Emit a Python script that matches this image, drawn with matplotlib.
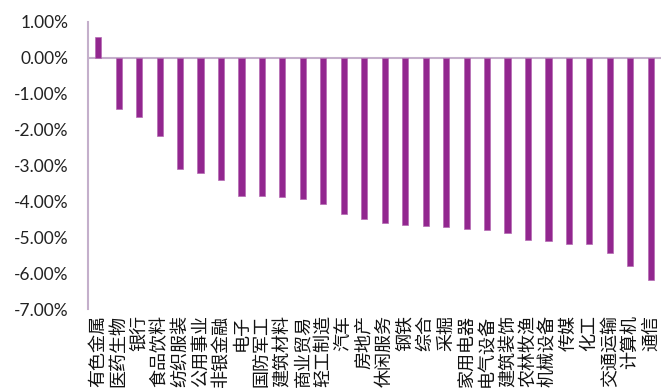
import numpy as np
import matplotlib.pyplot as plt
from matplotlib.ticker import FuncFormatter

# industry returns (%)
industries = ['有色金属', '医药生物', '银行', '食品饮料', '纺织服装', '公用事业', '非银金融',
              '电子', '国防军工', '建筑材料', '商业贸易', '轻工制造', '汽车', '房地产',
              '休闲服务', '钢铁', '综合', '采掘', '家用电器', '电气设备', '建筑装饰',
              '农林牧渔', '机械设备', '传媒', '化工', '交通运输', '计算机', '通信']
returns = [0.57, -1.43, -1.65, -2.18, -3.09, -3.20, -3.40,
           -3.84, -3.85, -3.89, -3.94, -4.08, -4.35, -4.48,
           -4.61, -4.67, -4.70, -4.71, -4.77, -4.80, -4.88,
           -5.08, -5.10, -5.18, -5.18, -5.45, -5.79, -6.18]
yticks = [1, 0, -1, -2, -3, -4, -5, -6, -7]

bar_color = '#92278F'
axis_color = '#C4AFCB'

fig = plt.figure(figsize=(6.61, 3.92), dpi=100)
ax = fig.add_axes([88 / 661, 1 - 309 / 392, 573 / 661, 287 / 392])

x = np.arange(len(industries))
ax.bar(x, returns, width=0.3, color=bar_color, edgecolor='#B46AB2', linewidth=0.5, zorder=2)

ax.set_xlim(-0.5, len(industries) - 0.5)
ax.set_ylim(-7, 1)
ax.set_yticks(yticks)
ax.yaxis.set_major_formatter(FuncFormatter(lambda v, p: f'{v:.2f}%'))
ax.tick_params(axis='y', length=0, pad=14, labelsize=12.5, colors='#222222')
for t in ax.get_yticklabels():
    t.set_fontfamily('Lato')

# zero line acts as the category axis
ax.axhline(0, color=axis_color, linewidth=1.5, zorder=1)

ax.set_xticks(x)
ax.set_xticklabels(industries, rotation=90, fontsize=13,
                   family=['Noto Sans CJK SC', 'DejaVu Sans'], color='#111111')
ax.tick_params(axis='x', length=0, pad=4)

for side in ['top', 'right', 'bottom']:
    ax.spines[side].set_visible(False)
ax.spines['left'].set_color(axis_color)
ax.spines['left'].set_linewidth(1.5)

fig.savefig('out.png', dpi=100)
